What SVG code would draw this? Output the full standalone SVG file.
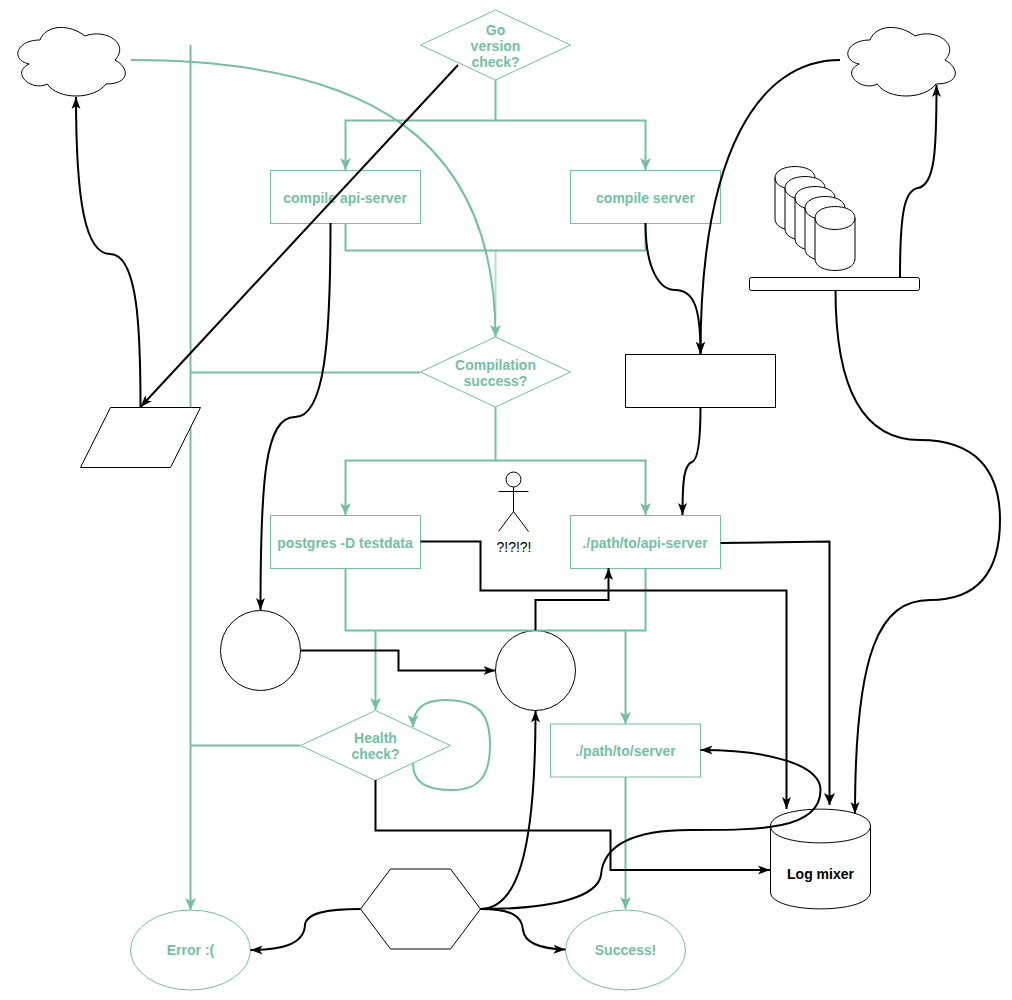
<svg xmlns="http://www.w3.org/2000/svg" width="1012" height="1000" viewBox="0 0 1012 1000">
<style>
.bg{fill:#fff}
.k{fill:#fff;stroke:#000;stroke-width:1}
.g{fill:#fff;stroke:#73bfa6;stroke-width:1}
.t{font-family:"Liberation Sans",Arial,sans-serif;font-size:14px;font-weight:bold;fill:#73bfa6;text-anchor:middle}
.tk{font-family:"Liberation Sans",Arial,sans-serif;font-size:14px;font-weight:bold;fill:#000;text-anchor:middle}
.ta{font-family:"Liberation Sans",Arial,sans-serif;font-size:14px;fill:#000;text-anchor:middle}
.cg{fill:none;stroke:#73bfa6;stroke-width:2}
.cp{fill:none;stroke:#b9dbd0;stroke-width:2}
.cb{fill:none;stroke:#000;stroke-width:2}
.ag{marker-end:url(#mg)}
.ab{marker-end:url(#mb)}
.abl{marker-end:url(#mbl)}
</style>
<defs>
<marker id="mg" markerUnits="userSpaceOnUse" markerWidth="13" markerHeight="13" refX="12" refY="6" orient="auto"><path d="M0 .5L12 6L0 11.500L3 6Z" fill="#73bfa6"/></marker>
<marker id="mb" markerUnits="userSpaceOnUse" markerWidth="13" markerHeight="11" refX="12" refY="5" orient="auto"><path d="M0 .5L12 5L0 9.500L3 5Z" fill="#000"/></marker>
<marker id="mbl" markerUnits="userSpaceOnUse" markerWidth="13" markerHeight="13" refX="12" refY="6" orient="auto"><path d="M0 .5L12 6L0 11.500L3 6Z" fill="#000"/></marker>
<path id="cloud" d="M30 20C6 20 0 40 19.200 44C0 52.800 21.600 72 37.200 64C48 80 84 80 96 64C120 64 120 48 105 40C120 24 96 8 75 16C60 4 36 4 30 20Z"/>
<g id="db"><path d="M0 11.500C0 -3.800 40 -3.800 40 11.500V52.500C40 67.800 0 67.800 0 52.500Z"/><path d="M0 11.500C0 26.800 40 26.800 40 11.500" fill="none"/></g>
</defs>
<rect class="bg" width="1012" height="1000"/>
<g id="cloud-left"><use href="#cloud" x="10" y="20" class="k"/></g>
<g id="cloud-right"><use href="#cloud" x="840" y="20" class="k"/></g>
<g id="storage">
<use href="#db" x="775" y="166.500" class="k"/>
<use href="#db" x="785" y="176.500" class="k"/>
<use href="#db" x="795" y="186.500" class="k"/>
<use href="#db" x="805" y="196.500" class="k"/>
<use href="#db" x="815" y="206.500" class="k"/>
</g>
<g id="bar"><rect x="749.500" y="277.500" width="170" height="13" rx="2" class="k"/></g>
<g id="go-check"><path d="M495.500 10L570.500 45L495.500 80L420.500 45Z" class="g"/><text class="t" x="495.500" y="35">Go</text><text class="t" x="495.500" y="51">version</text><text class="t" x="495.500" y="67">check?</text></g>
<g id="compile-api"><rect x="270.500" y="170.500" width="150" height="53" class="g"/><text class="t" x="345" y="203">compile api-server</text></g>
<g id="compile-server"><rect x="570.500" y="170.500" width="150" height="53" class="g"/><text class="t" x="645.500" y="203">compile server</text></g>
<g id="compilation"><path d="M495.500 337L570.500 372L495.500 407L420.500 372Z" class="g"/><text class="t" x="495.500" y="370">Compilation</text><text class="t" x="495.500" y="386">success?</text></g>
<g id="box"><rect x="625.500" y="354.500" width="150" height="53" class="k"/></g>
<g id="actor"><circle cx="513.500" cy="479.500" r="7.500" class="k"/><path d="M513.500 487V511.500M498.500 491.500H528.500M498.500 531.500L513.500 511.500L528.500 531.500" class="k" fill="none"/><text class="ta" x="514" y="552">?!?!?!</text></g>
<g id="postgres"><rect x="270.500" y="515.500" width="150" height="53" class="g"/><text class="t" x="345" y="548">postgres -D testdata</text></g>
<g id="api-server"><rect x="570.500" y="515.500" width="150" height="53" class="g"/><text class="t" x="645" y="548">./path/to/api-server</text></g>
<g id="circle-1"><circle cx="260.500" cy="650.500" r="40" class="k"/></g>
<g id="circle-2"><circle cx="535.500" cy="670.500" r="40" class="k"/></g>
<g id="health"><path d="M375.500 710.500L450.500 745.500L375.500 780.500L300.500 745.500Z" class="g"/><text class="t" x="375.500" y="743">Health</text><text class="t" x="375.500" y="759">check?</text></g>
<g id="server"><rect x="550.500" y="724" width="150" height="53" class="g"/><text class="t" x="625.500" y="756">./path/to/server</text></g>
<g id="hexagon"><path d="M360.500 909L390.500 869H450.500L480.500 909L450.500 949H390.500Z" class="k"/></g>
<g id="log-mixer"><path d="M770.500 826C770.500 803.500 870.500 803.500 870.500 826V892C870.500 914.500 770.500 914.500 770.500 892Z" class="k"/><path d="M770.500 826C770.500 848.500 870.500 848.500 870.500 826" class="k" fill="none"/><text class="tk" x="820.500" y="879">Log mixer</text></g>
<g id="error"><ellipse cx="190.500" cy="950" rx="60" ry="40" class="g"/><text class="t" x="190.500" y="955">Error :(</text></g>
<g id="success"><ellipse cx="625.500" cy="950" rx="60" ry="40" class="g"/><text class="t" x="625.500" y="955">Success!</text></g>
<g id="connectors">
<path class="cg ag" d="M495.500 80V120.500H345.500V170"/>
<path class="cg ag" d="M495.500 120.500H645.500V170"/>
<path class="cp" d="M495.500 250.500V320"/>
<path class="cg" d="M345.500 223V250.500H645.500V223"/>
<path class="cg ag" d="M131 60C370 60 495.500 140 495.500 337"/>
<path class="cg ag" d="M190.500 45V910"/>
<path class="cg" d="M420 372.500H190.500"/>
<path class="cg" d="M300 745.500H190.500"/>
<path class="cg ag" d="M495.500 407V460.500H345.500V515"/>
<path class="cg ag" d="M495.500 460.500H645.500V515"/>
<path class="cg" d="M345.500 568V630.500H645.500V568"/>
<path class="cg ag" d="M375.500 630.500V710"/>
<path class="cg ag" d="M625.500 630.500V724"/>
<path class="cg ag" d="M625.500 777V909"/>
<path class="cg ag" d="M413 763C413 782 425 790 452 790C480 790 490 775 490 745C490 715 480 700 445 700C425 700 413 708 413 727"/>
<path class="cb ab" d="M140.500 407C140.500 330 138 254 110 254C85 254 76 200 76 97"/>
<path class="cb ab" d="M458 65L140.500 407"/>
<path class="cb ab" d="M330.500 223C330.500 340 325 417 295 417C265 417 260.500 480 260.500 610"/>
<path class="cb ab" d="M645.500 223C645.500 270 660 290 675 290C695 290 700.500 310 700.500 354"/>
<path class="cb ab" d="M840 60C760 60 700.500 150 700.500 354"/>
<path class="cb ab" d="M700.500 407C700.500 440 698 460 692 462C684 465 682.500 480 682.500 515"/>
<path class="cb ab" d="M900 277C900 210 905 190 918 188C935 185 936.500 150 936.500 85"/>
<path class="cb ab" d="M835.500 290C835.500 400 870 440 920 440C975 440 1000 470 1000 520C1000 575 975 600 930 600C880 600 855 650 855 814"/>
<path class="cb ab" d="M420.500 541.500H480.500V590.500H786.500V809"/>
<path class="cb abl" d="M720.500 543L829.500 541.500V805"/>
<path class="cb ab" d="M300.500 650.500H398.500V670.500H495.500"/>
<path class="cb ab" d="M535.500 630.500V600H608.500V568"/>
<path class="cb ab" d="M375.500 780V830.500H610.500V870H770"/>
<path class="cb ab" d="M360.500 909C330 909 306 912 305 925C304 945 280 950 250.500 950"/>
<path class="cb ab" d="M480.500 909C515 909 535.500 860 535.500 710.500"/>
<path class="cb ab" d="M480.500 909C510 909 522 915 523 930C525 945 545 949 565.500 949.500"/>
<path class="cb ab" d="M480.500 909C560 909 598 895 601 875C603 850 625 830 690 830C760 830 820.500 830 820.500 790C820.500 765 770 750 700.500 750"/>
</g>
<g id="parallelogram"><path d="M80.500 467.500L110.500 407.500H200.500L170.500 467.500Z" class="k"/></g>
</svg>
